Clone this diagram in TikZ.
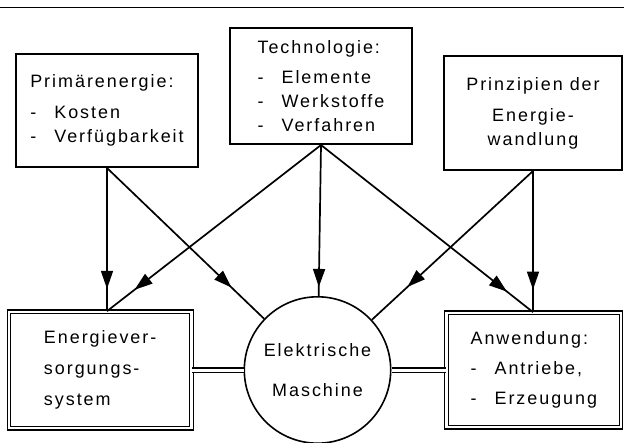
\documentclass[tikz,border=0pt]{standalone}
\usepackage{fontspec}
\newfontfamily\lblfont[LetterSpace=11]{Liberation Sans}
\newcommand{\lbl}{\lblfont\fontsize{18}{24}\selectfont}
\newcommand{\dashitem}[1]{\makebox[24bp][l]{-}#1}
\usetikzlibrary{arrows.meta, positioning, decorations.markings}
\tikzstyle{topbox} = [rectangle, draw=black, line width=1.6bp, align=left, font=\lbl]
\tikzstyle{basebox} = [rectangle, draw=black, line width=1.1bp, double, double distance=2.2bp, align=left, font=\lbl]
\tikzstyle{machine} = [circle, draw=black, line width=1.6bp, minimum size=146.4bp, inner sep=0pt, align=center, font=\lbl]
\tikzstyle{link} = [line width=1.1bp, double, double distance=3bp]
\tikzstyle{arrow} = [line width=1.7bp]
\tikzset{tipat/.style={postaction={decorate}, decoration={markings, mark=at position #1 with {\arrow{Triangle[length=18bp,width=12bp]}}}}}

\begin{document}
\begin{tikzpicture}[x=1bp, y=-1bp]
\useasboundingbox (0,0) rectangle (624,443);
\draw [line width=1.4bp] (0,7.5) -- (624,7.5);

% Nodes
\node (prim) [topbox, minimum width=182.4bp, minimum height=113.4bp] at (107,110.5) {Primärenergie:\\[7bp] \dashitem{Kosten}\\ \dashitem{Verfügbarkeit}};
\node (tech) [topbox, minimum width=182.4bp, minimum height=116.4bp] at (321,86) {Technologie:\\[7bp] \dashitem{Elemente}\\ \dashitem{Werkstoffe}\\ \dashitem{Verfahren}};
\node (prin) [topbox, align=center, minimum width=178.4bp, minimum height=114.4bp] at (533,113) {Prinzipien der\\[7bp] Energie-\\ wandlung};

\node (mach) [machine] at (317.5,370) {Elektrische\\[16bp] Maschine};
\node (ev) [basebox, minimum width=182.6bp, minimum height=116.6bp, left=51.5bp of mach] {Energiever-\\[7bp] sorgungs-\\[7bp] system};
\node (anw) [basebox, minimum width=174.6bp, minimum height=114.6bp, right=54.5bp of mach] {Anwendung:\\[6bp] \dashitem{Antriebe,}\\[6bp] \dashitem{Erzeugung}};

\coordinate (evtop) at (prim.south |- ev.north);
\coordinate (anwtop) at (prin.south |- anw.north);

% Arrows
\draw [arrow, tipat=0.844] (prim.south) -- (evtop);
\draw [arrow, tipat=0.793] (prim.south) -- (mach);
\draw [arrow, tipat=0.871] (tech.south) -- (evtop);
\draw [arrow, tipat=0.94] (tech.south) -- (mach);
\draw [arrow, tipat=0.877] (tech.south) -- (anwtop);
\draw [arrow, tipat=0.779] (prin.south) -- (mach);
\draw [arrow, tipat=0.84] (prin.south) -- (anwtop);

\draw [link] (ev) -- (mach);
\draw [link] (mach) -- (anw);

\end{tikzpicture}
\end{document}
